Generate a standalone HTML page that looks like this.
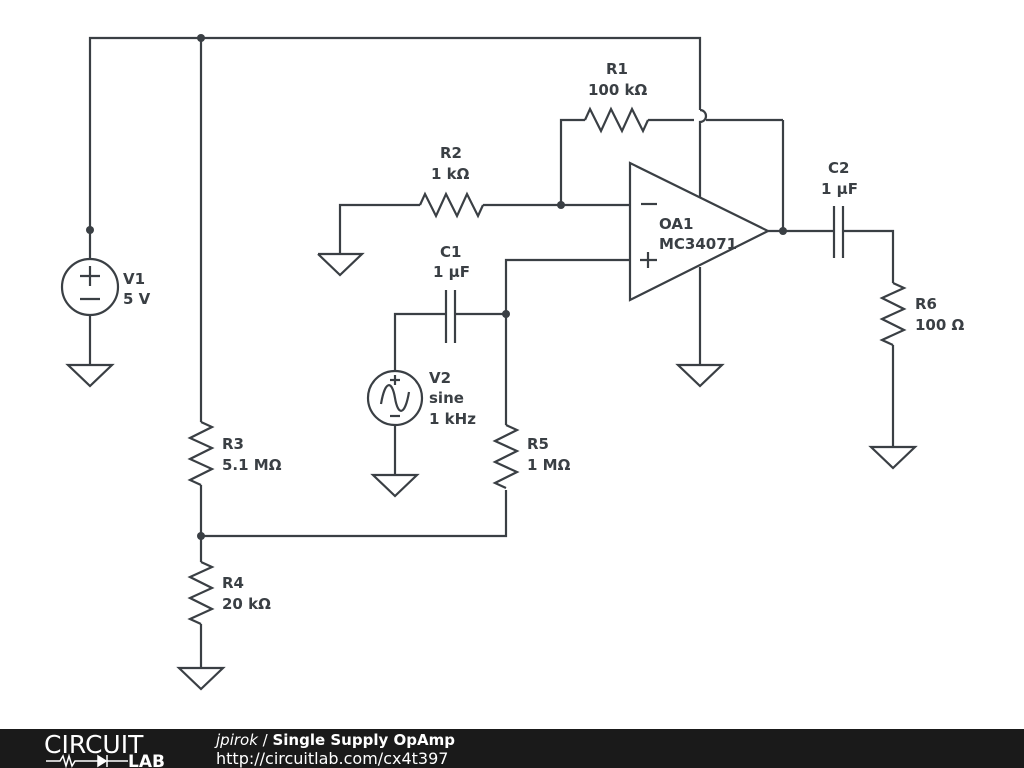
<!DOCTYPE html>
<html><head><meta charset="utf-8"><style>
html,body{margin:0;padding:0;background:#fff;width:1024px;height:768px;overflow:hidden}
svg{display:block}
text{font-family:"DejaVu Sans","Liberation Sans",sans-serif;font-weight:bold;font-size:15px;fill:#3a3f44}
</style></head><body>
<svg width="1024" height="768" viewBox="0 0 1024 768">
<g stroke="#3a3f44" stroke-width="2.2" fill="none" stroke-linejoin="miter">
<polyline points="90,260 90,38 700,38 700,110"/>
<path d="M700,110 A6,6 0 0 1 700,122 L700,198"/>
<circle cx="90" cy="287" r="28"/>
<line x1="90" y1="315" x2="90" y2="365"/>
<polygon points="68,365 112,365 90,386"/>
<line x1="80" y1="276" x2="100" y2="276"/><line x1="90" y1="266" x2="90" y2="286"/>
<line x1="80" y1="299" x2="100" y2="299"/>
<line x1="201" y1="38" x2="201" y2="422"/>
<polyline points="201,422 212,427 190,438 212,448 190,459 212,469 190,480 201,485"/>
<line x1="201" y1="485" x2="201" y2="562"/>
<polyline points="201,562 212,567 190,577 212,588 190,598 212,609 190,619 201,624"/>
<line x1="201" y1="624" x2="201" y2="668"/>
<polygon points="179,668 223,668 201,689"/>
<polyline points="201,536 506,536 506,490"/>
<polyline points="506,425 517,430 495,441 517,451 495,462 517,472 495,483 506,488"/>
<polyline points="506,425 506,260 630,260"/>
<polyline points="506,314 455,314"/><line x1="455" y1="290" x2="455" y2="343"/>
<line x1="446" y1="290" x2="446" y2="343"/>
<polyline points="446,314 395,314 395,371"/>
<circle cx="395" cy="398" r="27"/>
<path d="M381,404 C385,380 392,380 395,398 C398,416 405,416 409,392"/>
<line x1="390" y1="380" x2="400" y2="380"/><line x1="395" y1="375" x2="395" y2="385"/>
<line x1="390" y1="416" x2="400" y2="416"/>
<line x1="395" y1="425" x2="395" y2="475"/>
<polygon points="373,475 417,475 395,496"/>
<polyline points="318,254 362,254 340,275 318,254"/>
<polyline points="340,254 340,205 420,205"/>
<polyline points="420,205 425,194 436,216 446,194 457,216 467,194 478,216 483,205"/>
<line x1="483" y1="205" x2="630" y2="205"/>
<polyline points="561,205 561,120 585,120"/>
<polyline points="585,120 590,109 601,131 611,109 622,131 632,109 643,131 648,120"/>
<line x1="648" y1="120" x2="694" y2="120"/><line x1="706" y1="120" x2="783" y2="120"/>
<line x1="783" y1="120" x2="783" y2="231"/>
<polygon points="630,163 630,300 768,231"/>
<line x1="641" y1="204" x2="657" y2="204"/>
<line x1="640" y1="260" x2="657" y2="260"/><line x1="648" y1="252" x2="648" y2="268"/>
<line x1="700" y1="267" x2="700" y2="365"/>
<polygon points="678,365 722,365 700,386"/>
<line x1="768" y1="231" x2="834" y2="231"/>
<line x1="834" y1="206" x2="834" y2="258"/><line x1="843" y1="206" x2="843" y2="258"/>
<polyline points="843,231 893,231 893,283"/>
<polyline points="893,283 904,288 882,298 904,309 882,319 904,330 882,340 893,345"/>
<line x1="893" y1="345" x2="893" y2="447"/>
<polygon points="871,447 915,447 893,468"/>
</g>
<g fill="#3a3f44">
<circle cx="201" cy="38" r="4"/><circle cx="90" cy="230" r="4"/>
<circle cx="201" cy="536" r="4"/><circle cx="506" cy="314" r="4"/>
<circle cx="561" cy="205" r="4"/><circle cx="783" cy="231" r="4"/>
</g>
<text x="123" y="284">V1</text><text x="123" y="304">5 V</text>
<text x="222" y="449">R3</text><text x="222" y="470">5.1 MΩ</text>
<text x="222" y="588">R4</text><text x="222" y="609">20 kΩ</text>
<text x="527" y="449">R5</text><text x="527" y="470">1 MΩ</text>
<text x="429" y="383">V2</text><text x="429" y="403">sine</text><text x="429" y="424">1 kHz</text>
<text x="440" y="257">C1</text><text x="433" y="277">1 µF</text>
<text x="440" y="158">R2</text><text x="431" y="179">1 kΩ</text>
<text x="606" y="74">R1</text><text x="588" y="95">100 kΩ</text>
<text x="659" y="229">OA1</text><text x="659" y="249">MC34071</text>
<text x="828" y="173">C2</text><text x="821" y="194">1 µF</text>
<text x="915" y="309">R6</text><text x="915" y="330">100 Ω</text>
<rect x="0" y="729" width="1024" height="39" fill="#1a1a1a"/>
<text x="44" y="753" style="font-family:'DejaVu Sans',sans-serif;font-weight:normal;font-size:25px;fill:#fff">CIRCUIT</text>
<g stroke="#fff" stroke-width="1.5" fill="none"><polyline points="46,761 60,761 63,756 66,766 69,756 72,766 75,761 98,761"/><polygon points="98,756 98,766 106,761" fill="#fff"/><line x1="107" y1="755" x2="107" y2="767"/><line x1="107" y1="761" x2="128" y2="761"/></g>
<text x="128" y="767" style="font-size:17px;fill:#fff">LAB</text>
<text x="216" y="745" style="fill:#fff;font-size:15px"><tspan style="font-style:italic;font-weight:normal">jpirok</tspan><tspan style="font-weight:normal"> / </tspan>Single Supply OpAmp</text>
<text x="216" y="764" style="fill:#fff;font-weight:normal;font-size:16px">http://circuitlab.com/cx4t397</text>
</svg>
</body></html>
